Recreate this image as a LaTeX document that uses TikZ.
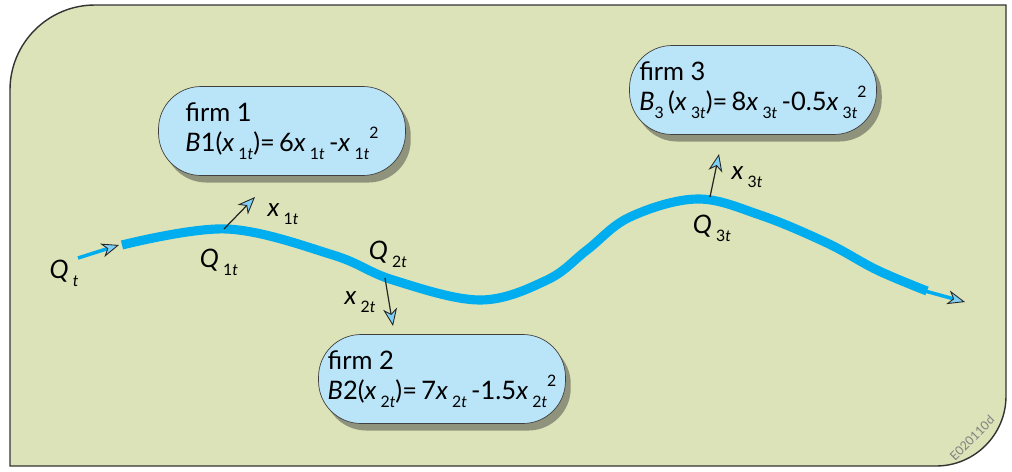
\documentclass[tikz,border=0pt]{standalone}
\usepackage{fontspec}
\setmainfont{Lato}
\usetikzlibrary{arrows.meta,shadows}
\definecolor{bgolive}{HTML}{DDE3B8}
\definecolor{pipeblue}{HTML}{00AEEF}
\definecolor{boxblue}{HTML}{BAE4F8}
\definecolor{tipblue}{HTML}{7FD0F4}
\newcommand{\sub}[1]{\raisebox{-0.6ex}{\small #1}}
\newcommand{\sqr}{\raisebox{1.0ex}{\small 2}}
\begin{document}
\begin{tikzpicture}[x=0.02cm,y=-0.02cm,
    font=\fontsize{14.5pt}{17.5pt}\selectfont,
    firmbox/.style={draw=black!75,fill=boxblue,rounded corners=0.85cm,
      minimum width=4.94cm,minimum height=1.78cm,align=left,
      drop shadow={shadow xshift=3pt,shadow yshift=-4pt,opacity=0.45,fill=black!80}},
    tip/.style={-{Stealth[length=10pt,width=8pt,inset=3pt,color=black!85,fill=tipblue,line width=0.5pt]}},
    conn/.style={tip,draw=black!85,line width=0.7pt},
    lbl/.style={inner sep=1pt}]
    \useasboundingbox (0,0) rectangle (1012,471);
    % frame
    \draw[fill=bgolive,draw=black!80,line width=0.8pt]
      (10,300) [rounded corners=1.7cm] -- (10,5) -- (500,5) [sharp corners] -- (1006,5)
      -- (1006,200) [rounded corners=1.4cm] -- (1006,466) -- (500,466) [sharp corners] -- (10,466) -- cycle;
    % flow of the river
    \draw[pipeblue,line width=5.2pt] plot[smooth,tension=0.6] coordinates
      {(122,245) (227,229) (333,255) (393,280) (480,300) (547,280)
       (587,250) (630,217) (697,199) (760,215) (827,243) (877,270) (927,291)};
    \coordinate (in) at (78,258);
    \coordinate (inend) at (119,245);
    \draw[tip,pipeblue,line width=2pt] (in) -- (inend);
    \coordinate (out) at (925,291);
    \coordinate (outend) at (965,302);
    \draw[tip,pipeblue,line width=2pt] (out) -- (outend);
    % firms
    \node (firm1) at (282,131) [firmbox] {firm 1\\\textit{B}1(\textit{x}\,\sub{1\textit{t}})=\,6\textit{x}\,\sub{1\textit{t}}\,-\textit{x}\,\sub{1\textit{t}}\sqr};
    \node (firm2) at (442,379) [firmbox] {firm 2\\\textit{B}2(\textit{x}\,\sub{2\textit{t}})=\,7\textit{x}\,\sub{2\textit{t}}\,-1.5\textit{x}\,\sub{2\textit{t}}\sqr};
    \node (firm3) at (753,90) [firmbox] {firm 3\\\textit{B}\sub{3}\,(\textit{x}\,\sub{3\textit{t}})=\,8\textit{x}\,\sub{3\textit{t}}\,-0.5\textit{x}\,\sub{3\textit{t}}\sqr};
    % withdrawals
    \coordinate (q1) at (224,229);
    \coordinate (w1) at (255,197);
    \draw[conn] (q1) -- (w1);
    \coordinate (q2) at (385,278);
    \coordinate (w2) at (393,326);
    \draw[conn] (q2) -- (w2);
    \coordinate (q3) at (710,197);
    \coordinate (w3) at (719,154);
    \draw[conn] (q3) -- (w3);
    % labels
    \node (lqt) at (64,273) [lbl] {\textit{Q}\,\sub{\textit{t}}};
    \node (lq1) at (219,262) [lbl] {\textit{Q}\,\sub{1\textit{t}}};
    \node (lq2) at (388,254) [lbl] {\textit{Q}\,\sub{2\textit{t}}};
    \node (lq3) at (712,228) [lbl] {\textit{Q}\,\sub{3\textit{t}}};
    \node (lx1) at (283,214) [lbl] {\textit{x}\,\sub{1\textit{t}}};
    \node (lx2) at (360,302) [lbl] {\textit{x}\,\sub{2\textit{t}}};
    \node (lx3) at (747,177) [lbl] {\textit{x}\,\sub{3\textit{t}}};
    \node (tag) at (972,438) [rotate=45,text=black!50,font=\scriptsize] {E020110d};
\end{tikzpicture}
\end{document}
